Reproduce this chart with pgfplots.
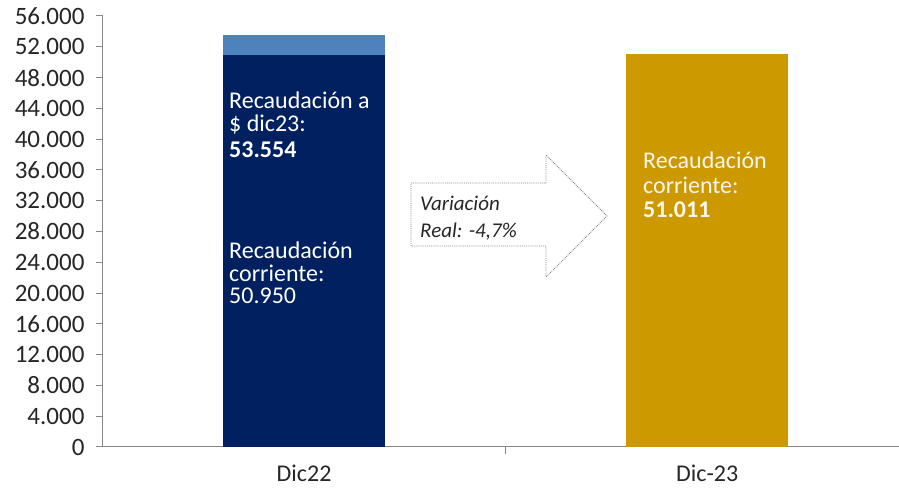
\documentclass[border=0pt]{standalone}
\usepackage{pgfplots}
\pgfplotsset{compat=1.18}
\usepackage{fontspec}
\setmainfont{Carlito}
\definecolor{navy}{HTML}{002060}
\definecolor{lblue}{HTML}{4F81BD}
\definecolor{gold}{HTML}{CC9900}
\definecolor{axgray}{HTML}{868686}
\definecolor{txt}{HTML}{262626}
\newcommand{\bigtxt}{\fontsize{24}{28}\selectfont}
\begin{document}
\begin{tikzpicture}
\useasboundingbox (0pt,0pt) rectangle (899pt,492pt);
\begin{axis}[
  at={(103pt,45pt)}, anchor=south west,
  scale only axis, width=796pt, height=431pt,
  xmin=-0.4988, xmax=1.476, ymin=0, ymax=56000,
  axis x line=bottom, axis y line=left,
  axis line style={-, draw=axgray, line width=1pt},
  ytick={0,4000,...,56000},
  scaled y ticks=false,
  xtick={0.5},
  xticklabels={},
  extra x ticks={0,1},
  extra x tick labels={Dic22,Dic-23},
  extra x tick style={major tick length=0pt, xticklabel style={yshift=-14pt, font=\bigtxt}},
  tick align=outside,
  major tick length=7pt,
  tick style={draw=axgray, line width=1pt},
  ticklabel style={font=\fontsize{25}{29}\selectfont, text=txt},
  yticklabel style={xshift=-8pt},
  /pgf/number format/.cd, fixed, 1000 sep={.}, assume math mode=true,
  /pgfplots/.cd,
  ybar, bar shift=0pt, bar width=0.402,
]
\addplot[fill=lblue, draw=none] coordinates {(0,53554)};
\addplot[fill=navy, draw=none] coordinates {(0,50950)};
\addplot[fill=gold, draw=none] coordinates {(1,51011)};
\end{axis}
\begin{scope}[x=1pt, y=1pt]
% labels inside the bars
\begin{scope}[every node/.style={anchor=west, inner sep=0pt, text=white, font=\bigtxt}]
\node at (229,492-100) {Recaudación a};
\node at (229,492-125) {\$ dic23:};
\node at (229,492-150) {\textbf{53.554}};
\node at (229,492-250) {Recaudación};
\node at (229,492-273) {corriente:};
\node at (229,492-296) {50.950};
\node[text=white!92!gold] at (643,492-160) {Recaudación};
\node[text=white!92!gold] at (643,492-185) {corriente:};
\node[text=white!92!gold] at (643,492-210) {\textbf{51.011}};
\end{scope}
% variation arrow
\draw[densely dotted, draw=gray, line width=0.9pt]
  (411,492-183) -- (546,492-183) -- (546,492-155) -- (607,492-216)
  -- (546,492-277) -- (546,492-246) -- (411,492-246) -- cycle;
\node[anchor=west, inner sep=0pt, font=\fontsize{21}{25}\selectfont\itshape, text=txt] at (420,492-203) {Variación};
\node[anchor=west, inner sep=0pt, font=\fontsize{21}{25}\selectfont\itshape, text=txt] at (420,492-232) {Real: -4,7\%};
\end{scope}
\end{tikzpicture}
\end{document}
